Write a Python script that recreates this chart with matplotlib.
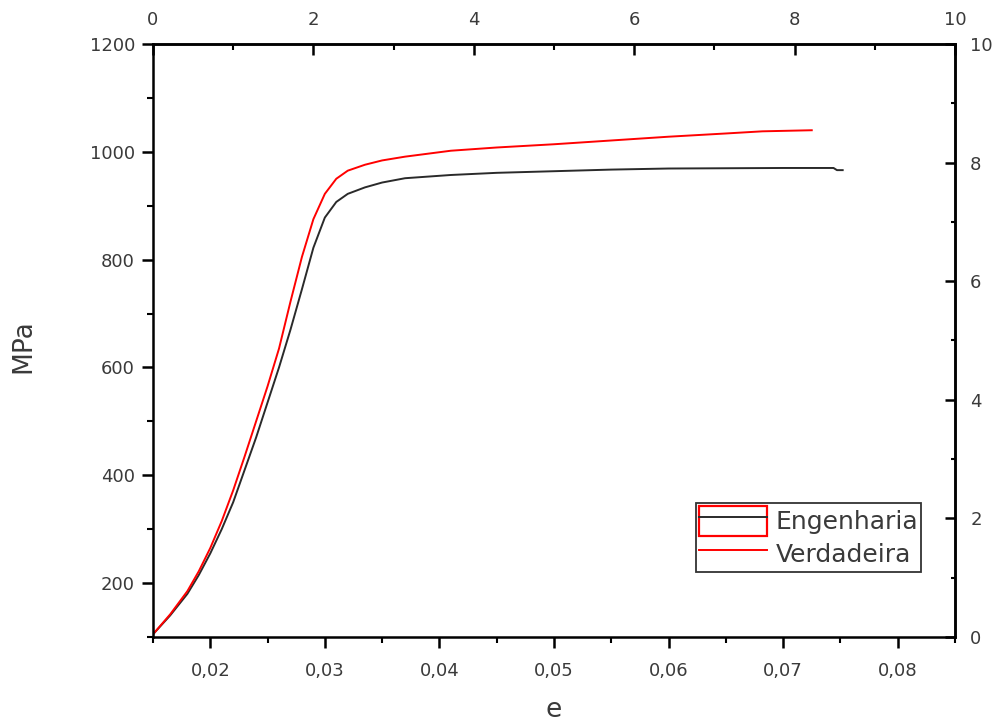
import numpy as np
import matplotlib
matplotlib.use('Agg')
import matplotlib.pyplot as plt
from matplotlib.ticker import MultipleLocator, FuncFormatter
from matplotlib.patches import Rectangle
from matplotlib.lines import Line2D
from matplotlib.legend_handler import HandlerTuple

plt.rcParams['font.family'] = ['DejaVu Sans']

# Engenharia (black)
eng_e = [0.0150, 0.0165, 0.0180, 0.0190, 0.0200, 0.0210, 0.0220, 0.0230, 0.0240,
         0.0250, 0.0260, 0.0270, 0.0280, 0.0290, 0.0300, 0.0310, 0.0320, 0.0335,
         0.0350, 0.0370, 0.0410, 0.0450, 0.0500, 0.0550, 0.0600, 0.0700, 0.0744,
         0.0747, 0.0752]
eng_s = [105, 140, 180, 215, 255, 300, 350, 410, 470,
         535, 600, 670, 745, 822, 878, 907, 922, 934,
         943, 951, 957, 961, 964, 967, 969, 970, 970,
         966, 966]

# Verdadeira (red)
ver_e = [0.0150, 0.0165, 0.0180, 0.0190, 0.0200, 0.0210, 0.0220, 0.0230, 0.0240,
         0.0250, 0.0260, 0.0270, 0.0280, 0.0290, 0.0300, 0.0310, 0.0320, 0.0335,
         0.0350, 0.0370, 0.0410, 0.0450, 0.0500, 0.0550, 0.0600, 0.0650, 0.0682,
         0.0725]
ver_s = [105, 142, 185, 222, 265, 315, 372, 435, 500,
         565, 635, 722, 805, 875, 922, 950, 965, 976,
         984, 991, 1002, 1008, 1014, 1021, 1028, 1034, 1038,
         1040]

x_min, x_max = 0.015, 0.085
y_min, y_max = 100, 1200

fig = plt.figure(figsize=(9.96, 7.27), dpi=100)
ax = fig.add_axes([0.1536, 0.1238, 0.8052, 0.8157])

ax.plot(eng_e, eng_s, color='#2a2a2a', lw=1.4)
ax.plot(ver_e, ver_s, color='red', lw=1.4)

ax.set_xlim(x_min, x_max)
ax.set_ylim(y_min, y_max)

txt = '#3a3a3a'
ax.xaxis.set_major_locator(MultipleLocator(0.01))
ax.xaxis.set_minor_locator(MultipleLocator(0.005))
ax.xaxis.set_major_formatter(FuncFormatter(lambda v, p: f'{v:.2f}'.replace('.', ',')))
ax.yaxis.set_major_locator(MultipleLocator(200))
ax.yaxis.set_minor_locator(MultipleLocator(100))

for s in ax.spines.values():
    s.set_linewidth(1.8)

ax.tick_params(which='major', direction='out', length=8, width=1.8,
               labelsize=13, labelcolor=txt)
ax.tick_params(which='minor', direction='out', length=4.5, width=1.5)
ax.tick_params(axis='x', pad=10)
ax.tick_params(axis='y', pad=5)

# top axis 0..10
top = ax.secondary_xaxis('top', functions=(lambda x: (x - x_min) / (x_max - x_min) * 10,
                                           lambda t: x_min + t / 10 * (x_max - x_min)))
top.xaxis.set_major_locator(MultipleLocator(2))
top.xaxis.set_minor_locator(MultipleLocator(1))
top.tick_params(which='major', direction='in', length=8, width=1.8,
                labelsize=13, labelcolor=txt, pad=11)
top.tick_params(which='minor', direction='in', length=4.5, width=1.5)
top.spines['top'].set_linewidth(1.8)

# right axis 0..10
right = ax.secondary_yaxis('right', functions=(lambda y: (y - y_min) / (y_max - y_min) * 10,
                                               lambda t: y_min + t / 10 * (y_max - y_min)))
right.yaxis.set_major_locator(MultipleLocator(2))
right.yaxis.set_minor_locator(MultipleLocator(1))
right.tick_params(which='major', direction='in', length=7, width=1.8,
                  labelsize=13, labelcolor=txt, pad=11)
right.tick_params(which='minor', direction='in', length=3, width=1.5)
right.spines['right'].set_linewidth(1.8)

ax.set_ylabel('MPa', fontsize=19, color=txt)
ax.yaxis.set_label_coords(-0.145, 0.49)
ax.set_xlabel('e', fontsize=19, color=txt)
ax.xaxis.set_label_coords(0.5, -0.102)

# legend
h_eng = (Rectangle((0, 0), 1, 1, facecolor='none', edgecolor='red', lw=1.6),
         Line2D([], [], color='#2a2a2a', lw=1.4))
h_ver = Line2D([], [], color='red', lw=1.4)
leg = ax.legend([h_eng, h_ver], ['Engenharia', 'Verdadeira'],
                handler_map={tuple: HandlerTuple(ndivide=1, pad=0)},
                loc='lower right', bbox_to_anchor=(0.9576, 0.1096),
                fontsize=18, fancybox=False, edgecolor='#333333', framealpha=1,
                handlelength=2.7, handleheight=1.5, labelspacing=0.1,
                borderpad=0.12, handletextpad=0.35, borderaxespad=0)
leg.get_frame().set_linewidth(1.3)
for t in leg.get_texts():
    t.set_color(txt)

fig.savefig('out.png', dpi=100)
